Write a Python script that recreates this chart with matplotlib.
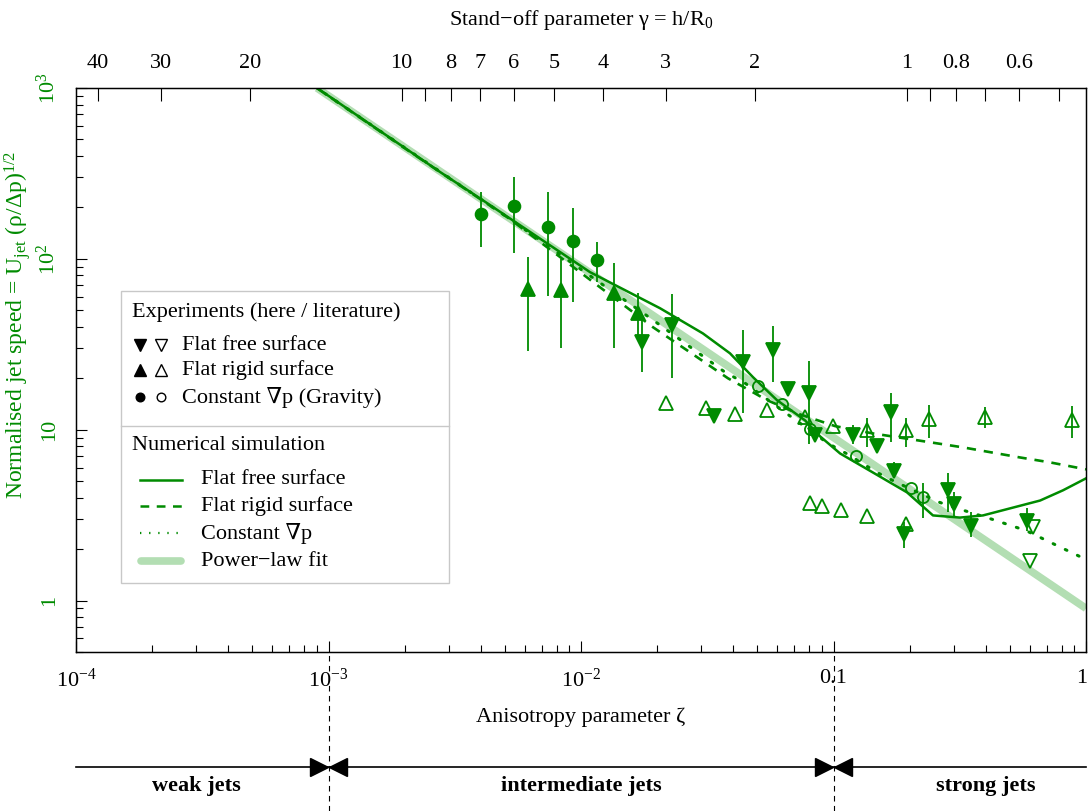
import matplotlib
matplotlib.use("Agg")
import numpy as np
import matplotlib.pyplot as plt
import matplotlib.transforms as mtransforms
from matplotlib.patches import Rectangle
from matplotlib.lines import Line2D
from matplotlib.ticker import NullLocator, LogLocator, NullFormatter

GREEN = "#008b00"
FIT_GREEN = "#b3deb3"
FS = 16

# --- experiments, this work (filled) ---
circ_zeta = [0.00401, 0.00543, 0.00740, 0.00927, 0.01153]
circ_u = [183, 205, 154, 127, 99]
circ_lo = [117, 108, 61, 56, 73]
circ_hi = [246, 301, 246, 198, 125]

up_zeta = [0.00618, 0.00833, 0.01345, 0.01686]
up_u = [67, 66, 63, 48]
up_lo = [29, 30, 30, 33]
up_hi = [102, 100, 94, 63]

down_zeta = [0.01739, 0.02286, 0.0337, 0.0439, 0.0578, 0.0663, 0.0802, 0.0845,
             0.1198, 0.149, 0.1683, 0.1737, 0.190, 0.285, 0.300, 0.349, 0.582]
down_u = [32.6, 40.9, 12.1, 24.9, 29.2, 17.4, 16.5, 9.27,
          9.27, 7.99, 12.7, 5.70, 2.44, 4.41, 3.68, 2.75, 2.94]
down_lo = [21.7, 20.0, 12.1, 12.6, 19.0, 17.4, 8.3, 9.27,
           8.3, 7.99, 8.46, 5.4, 2.02, 3.28, 3.08, 2.35, 2.57]
down_hi = [45.5, 62.0, 12.1, 38.2, 40.3, 17.4, 25.1, 9.27,
           10.6, 7.99, 16.4, 6.5, 2.88, 5.55, 4.31, 3.29, 3.46]

# --- experiments, literature (open) ---
lit_down_zeta = [0.618, 0.598]
lit_down_u = [2.69, 1.71]

lit_up_zeta = [0.0218, 0.0314, 0.0407, 0.0543, 0.0768, 0.0993, 0.1353, 0.1945,
               0.2395, 0.398, 0.878, 0.0807, 0.0900, 0.1068, 0.1353, 0.1945]
lit_up_u = [14.3, 13.4, 12.3, 13.0, 11.9, 10.5, 9.91, 9.91,
            11.6, 11.9, 11.35, 3.70, 3.60, 3.41, 3.11, 2.81]
lit_up_lo = [14.3, 13.4, 12.3, 13.0, 11.9, 10.5, 7.88, 7.88,
             9.0, 10.2, 9.0, 3.70, 3.60, 3.41, 3.11, 2.81]
lit_up_hi = [14.3, 13.4, 12.3, 13.0, 11.9, 10.5, 11.65, 11.65,
             13.9, 13.6, 13.7, 3.70, 3.60, 3.41, 3.11, 2.81]

lit_circ_zeta = [0.0502, 0.0625, 0.0809, 0.1225, 0.2027, 0.2255]
lit_circ_u = [18.1, 14.1, 10.09, 7.05, 4.55, 4.03]
lit_circ_lo = [18.1, 14.1, 10.09, 7.05, 4.55, 3.06]
lit_circ_hi = [18.1, 14.1, 10.09, 7.05, 4.55, 4.85]

# --- numerical simulations ---
sim_free_zeta = [7.9e-4, 1e-3, 2.77e-3, 3.98e-3, 1.086e-2, 2.056e-2, 3.04e-2, 3.89e-2,
                 4.80e-2, 5.97e-2, 7.71e-2, 8.85e-2, 0.1062, 0.1432, 0.1954, 0.2477,
                 0.3170, 0.3908, 0.658, 0.811, 1.0]
sim_free_u = [1139, 900, 322, 226, 83.6, 51.4, 36.6, 28.0,
              20.3, 14.9, 11.35, 9.14, 7.26, 5.62, 4.30, 3.15,
              3.06, 3.15, 3.85, 4.42, 5.19]

sim_rigid_zeta = [7.9e-4, 2e-3, 5.24e-3, 1.189e-2, 1.928e-2, 2.70e-2, 3.82e-2, 5.45e-2,
                  7.36e-2, 0.1014, 0.1432, 0.216, 0.326, 0.548, 0.720, 1.0]
sim_rigid_u = [1139, 445, 170.6, 68.2, 39.8, 28.4, 20.0, 14.9,
               12.3, 10.5, 9.51, 8.66, 7.88, 6.88, 6.44, 5.86]

sim_grav_zeta = [7.9e-4, 2e-3, 5.24e-3, 1.135e-2, 1.910e-2, 2.65e-2, 3.72e-2, 4.47e-2,
                 6.85e-2, 9.51e-2, 0.1141, 0.1486, 0.178, 0.264, 0.320, 0.428,
                 0.578, 0.767, 1.0]
sim_grav_u = [1139, 448, 171, 76.0, 44.3, 31.2, 21.7, 18.7,
              11.8, 8.32, 7.17, 5.62, 4.91, 3.75, 3.41, 2.98,
              2.57, 2.10, 1.74]

fit_zeta = [9e-4, 1.0]
fit_u = [1000, 0.9]

# top axis: stand-off parameter, zeta = 0.195 gamma^-2
gamma_ticks = [40, 30, 20, 10, 9, 8, 7, 6, 5, 4, 3, 2, 1, 0.9, 0.8, 0.7, 0.6, 0.5]
gamma_labels = ["40", "30", "20", "10", "", "8", "7", "6", "5", "4", "3", "2",
                "1", "", "0.8", "", "0.6", ""]

regime_names = ["weak jets", "intermediate jets", "strong jets"]
regime_centres = [3.0e-4, 1.0e-2, 0.40]
regime_bounds = [1e-3, 0.1]

plt.rcParams["font.family"] = ["Liberation Serif", "DejaVu Serif"]
plt.rcParams["mathtext.fontset"] = "custom"
plt.rcParams["mathtext.rm"] = "Liberation Serif"
plt.rcParams["mathtext.it"] = "Liberation Serif:italic"
plt.rcParams["mathtext.bf"] = "Liberation Serif:bold"
plt.rcParams["font.size"] = FS

W, H = 1088, 811
fig = plt.figure(figsize=(W / 100, H / 100), dpi=100)
AX_L, AX_R, AX_T, AX_B = 76, 1086, 88, 652
ax = fig.add_axes([AX_L / W, 1 - AX_B / H, (AX_R - AX_L) / W, (AX_B - AX_T) / H])
ax.set_xscale("log")
ax.set_yscale("log")
ax.set_xlim(1e-4, 1)
ax.set_ylim(0.5, 1000)

# power-law fit band and simulation curves
ax.plot(fit_zeta, fit_u, color=FIT_GREEN, lw=5.5, solid_capstyle="butt", zorder=1)
ax.plot(sim_free_zeta, sim_free_u, color=GREEN, lw=1.8, zorder=2)
ax.plot(sim_rigid_zeta, sim_rigid_u, color=GREEN, lw=1.9, ls=(0, (3.5, 3)), zorder=2)
ax.plot(sim_grav_zeta, sim_grav_u, color=GREEN, lw=2.2, ls=(0, (0.6, 3.8)),
        dash_capstyle="round", zorder=2)


def points(z, u, lo, hi, marker, filled, ms):
    z, u = np.asarray(z), np.asarray(u)
    if lo is not None:
        lo, hi = np.asarray(lo), np.asarray(hi)
        ax.errorbar(z, u, yerr=[u - lo, hi - u], fmt="none", ecolor=GREEN,
                    elinewidth=1.3, capsize=0, zorder=3)
    ax.plot(z, u, ls="none", marker=marker, ms=ms,
            mfc=GREEN if filled else "none", mec=GREEN, mew=1.3, zorder=4)


points(lit_up_zeta, lit_up_u, lit_up_lo, lit_up_hi, "^", False, 10)
points(lit_down_zeta, lit_down_u, None, None, "v", False, 10)
points(lit_circ_zeta, lit_circ_u, lit_circ_lo, lit_circ_hi, "o", False, 8)
points(circ_zeta, circ_u, circ_lo, circ_hi, "o", True, 8.5)
points(up_zeta, up_u, up_lo, up_hi, "^", True, 10.5)
points(down_zeta, down_u, down_lo, down_hi, "v", True, 10.5)

# axes styling
for sp in ax.spines.values():
    sp.set_linewidth(1.0)
ax.set_xticks([1e-4, 1e-3, 1e-2, 0.1, 1],
              ["$10^{-4}$", "$10^{-3}$", "$10^{-2}$", "0.1", "1"])
ax.xaxis.set_minor_locator(LogLocator(base=10, subs=np.arange(2, 10), numticks=20))
ax.xaxis.set_minor_formatter(NullFormatter())
ax.set_yticks([1, 10, 100, 1000], ["1", "10", "$10^2$", "$10^3$"])
ax.yaxis.set_minor_locator(LogLocator(base=10, subs=np.arange(2, 10), numticks=20))
ax.yaxis.set_minor_formatter(NullFormatter())
ax.tick_params(which="both", direction="in", width=0.8, top=False, right=False)
ax.tick_params(which="major", length=8)
ax.tick_params(which="minor", length=5)
ax.tick_params(axis="x", pad=12, labelsize=FS)
ax.tick_params(axis="y", pad=12, labelsize=FS, labelcolor=GREEN)
for lbl in ax.get_yticklabels():
    lbl.set_rotation(90)
    lbl.set_va("center")
# keep the "1" at the right edge inside the figure
last = ax.get_xticklabels()[-1]
last.set_transform(last.get_transform() + mtransforms.ScaledTranslation(-4 / 100, 0, fig.dpi_scale_trans))

ax_top = ax.twiny()
ax_top.set_xscale("log")
ax_top.set_xlim(ax.get_xlim())
ax_top.set_xticks([0.195 / g ** 2 for g in gamma_ticks], gamma_labels)
ax_top.xaxis.set_minor_locator(NullLocator())
ax_top.tick_params(axis="x", direction="in", length=9, width=0.8, pad=11, labelsize=FS)

fig.text((AX_L + AX_R) / 2 / W, 1 - 20 / H, "Stand\u2212off parameter \u03b3 = h/R$_0$",
         ha="center", va="center", fontsize=FS)
fig.text((AX_L + AX_R) / 2 / W, 1 - 717 / H, "Anisotropy parameter \u03b6",
         ha="center", va="center", fontsize=FS)
fig.text(18 / W, 1 - 325 / H,
         "Normalised jet speed = U$_{\\rm jet}$ (\u03c1/\u0394p)$^{1/2}$",
         rotation=90, ha="center", va="center", color=GREEN, fontsize=17)

# legend, drawn by hand


def fx(px):
    return (px - AX_L) / (AX_R - AX_L)


def fy(py):
    return (AX_B - py) / (AX_B - AX_T)


tA = ax.transAxes
ax.add_patch(Rectangle((fx(121), fy(583)), fx(449) - fx(121), fy(291) - fy(583),
                       transform=tA, fc="white", ec="#c8c8c8", lw=1.0, zorder=6))
ax.add_line(Line2D([fx(121), fx(449)], [fy(426), fy(426)], transform=tA,
                   color="#c8c8c8", lw=1.0, zorder=7))
ax.text(fx(132), fy(312), "Experiments (here / literature)", transform=tA,
        va="center", ha="left", fontsize=FS, zorder=7)
leg_rows = [("v", 8, "Flat free surface", 345),
            ("^", 8, "Flat rigid surface", 370),
            ("o", 6.2, "Constant \u2207p (Gravity)", 397)]
for mk, ms, label, py in leg_rows:
    ax.plot([fx(140)], [fy(py)], marker=mk, ms=ms, color="black", transform=tA,
            zorder=7, clip_on=False)
    ax.plot([fx(161)], [fy(py)], marker=mk, ms=ms, mfc="white", mec="black", mew=1.0,
            transform=tA, zorder=7, clip_on=False)
    ax.text(fx(182), fy(py), label, transform=tA, va="center", ha="left",
            fontsize=FS, zorder=7)
ax.text(fx(132), fy(446), "Numerical simulation", transform=tA,
        va="center", ha="left", fontsize=FS, zorder=7)
leg_lines = [(dict(color=GREEN, lw=1.8), "Flat free surface", 480),
             (dict(color=GREEN, lw=1.8, ls=(0, (3.5, 3))), "Flat rigid surface", 506),
             (dict(color=GREEN, lw=1.6, ls=(0, (0.6, 3.5))), "Constant \u2207p", 533),
             (dict(color=FIT_GREEN, lw=5.5, solid_capstyle="round"), "Power\u2212law fit", 561)]
for style, label, py in leg_lines:
    x0, x1 = (140, 182) if label != "Power\u2212law fit" else (141, 181)
    ax.add_line(Line2D([fx(x0), fx(x1)], [fy(py), fy(py)], transform=tA, zorder=7, **style))
    ax.text(fx(201), fy(py), label, transform=tA, va="center", ha="left",
            fontsize=FS, zorder=7)

# regime bar below the axes
tB = mtransforms.blended_transform_factory(ax.transData, fig.transFigure)
bar_y = 1 - 767 / H
ax.add_line(Line2D([1e-4, 1], [bar_y, bar_y], transform=tB, color="black", lw=1.2,
                   clip_on=False))
for b in regime_bounds:
    ax.add_line(Line2D([b, b], [0, 1 - AX_B / H], transform=tB, color="black", lw=0.8,
                       ls=(0, (5, 4)), clip_on=False))
    left = mtransforms.offset_copy(tB, fig=fig, x=-9.5, y=0, units="dots")
    right = mtransforms.offset_copy(tB, fig=fig, x=9.5, y=0, units="dots")
    ax.plot([b], [bar_y], marker=">", ms=13.5, color="black", transform=left,
            clip_on=False)
    ax.plot([b], [bar_y], marker="<", ms=13.5, color="black", transform=right,
            clip_on=False)
for name, c in zip(regime_names, regime_centres):
    ax.text(c, 1 - 786 / H, name, transform=tB, ha="center", va="center",
            fontsize=FS, fontweight="bold")

fig.savefig("out.png", dpi=100)
